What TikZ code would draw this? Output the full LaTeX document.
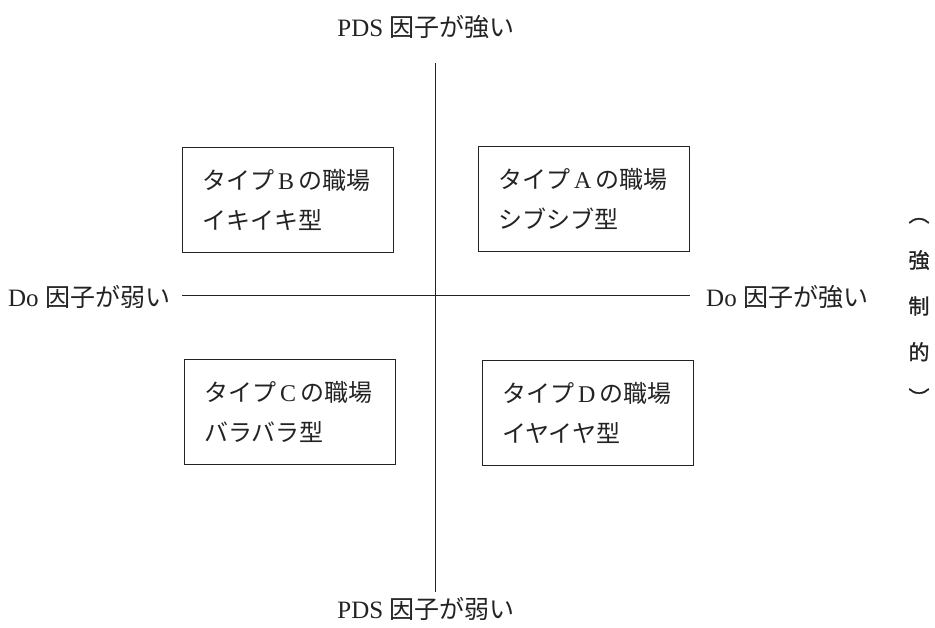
\documentclass[tikz,border=0pt]{standalone}
\usepackage{fontspec}
\setmainfont{Liberation Serif}
\newfontfamily\jp{Noto Sans CJK JP}
\newfontfamily\jpbold[FakeBold=1.2]{Noto Sans CJK JP}
\definecolor{ink}{RGB}{35,35,35}
\begin{document}
\begin{tikzpicture}[x=1pt,y=-1pt,
  every node/.style={text=ink},
  lbl/.style={font=\fontsize{25}{28}\selectfont, inner sep=0pt},
  quadbox/.style={draw=ink, line width=0.9pt, inner xsep=20pt, inner ysep=0pt,
    text width=171pt, minimum height=105pt, align=left,
    font=\fontsize{24}{40}\selectfont},
  axis/.style={draw=ink, line width=0.9pt}]
\useasboundingbox (0,0) rectangle (935,627);
% axes
\coordinate (vtop) at (435,63);
\coordinate (vbot) at (435,592);
\coordinate (hleft) at (182,295);
\coordinate (hright) at (690,295);
\draw[axis] (vtop) -- (vbot);
\draw[axis] (hleft) -- (hright);
% axis labels
\node[lbl] (pdsstrong) at (426,27) {PDS {\jp 因子が強い}};
\node[lbl] (pdsweak) at (426,609) {PDS {\jp 因子が弱い}};
\node[lbl, anchor=west] (doweak) at (8,297) {Do {\jp 因子が弱い}};
\node[lbl, anchor=west] (dostrong) at (706,297) {Do {\jp 因子が強い}};
% quadrant boxes
\node[quadbox] (typeB) at (287.5,199.5) {{\jp タイプ}\,B\,{\jp の職場}\\{\jp イキイキ型}};
\node[quadbox] (typeA) at (583.5,199) {{\jp タイプ}\,A\,{\jp の職場}\\{\jp シブシブ型}};
\node[quadbox] (typeC) at (289.5,411.5) {{\jp タイプ}\,C\,{\jp の職場}\\{\jp バラバラ型}};
\node[quadbox] (typeD) at (587.5,412.5) {{\jp タイプ}\,D\,{\jp の職場}\\{\jp イヤイヤ型}};
% vertical note
\node[inner sep=0pt, align=center, font=\jpbold\fontsize{21}{46}\selectfont] (force) at (919,312)
  {︵\\強\\制\\的\\︶};
\end{tikzpicture}
\end{document}
